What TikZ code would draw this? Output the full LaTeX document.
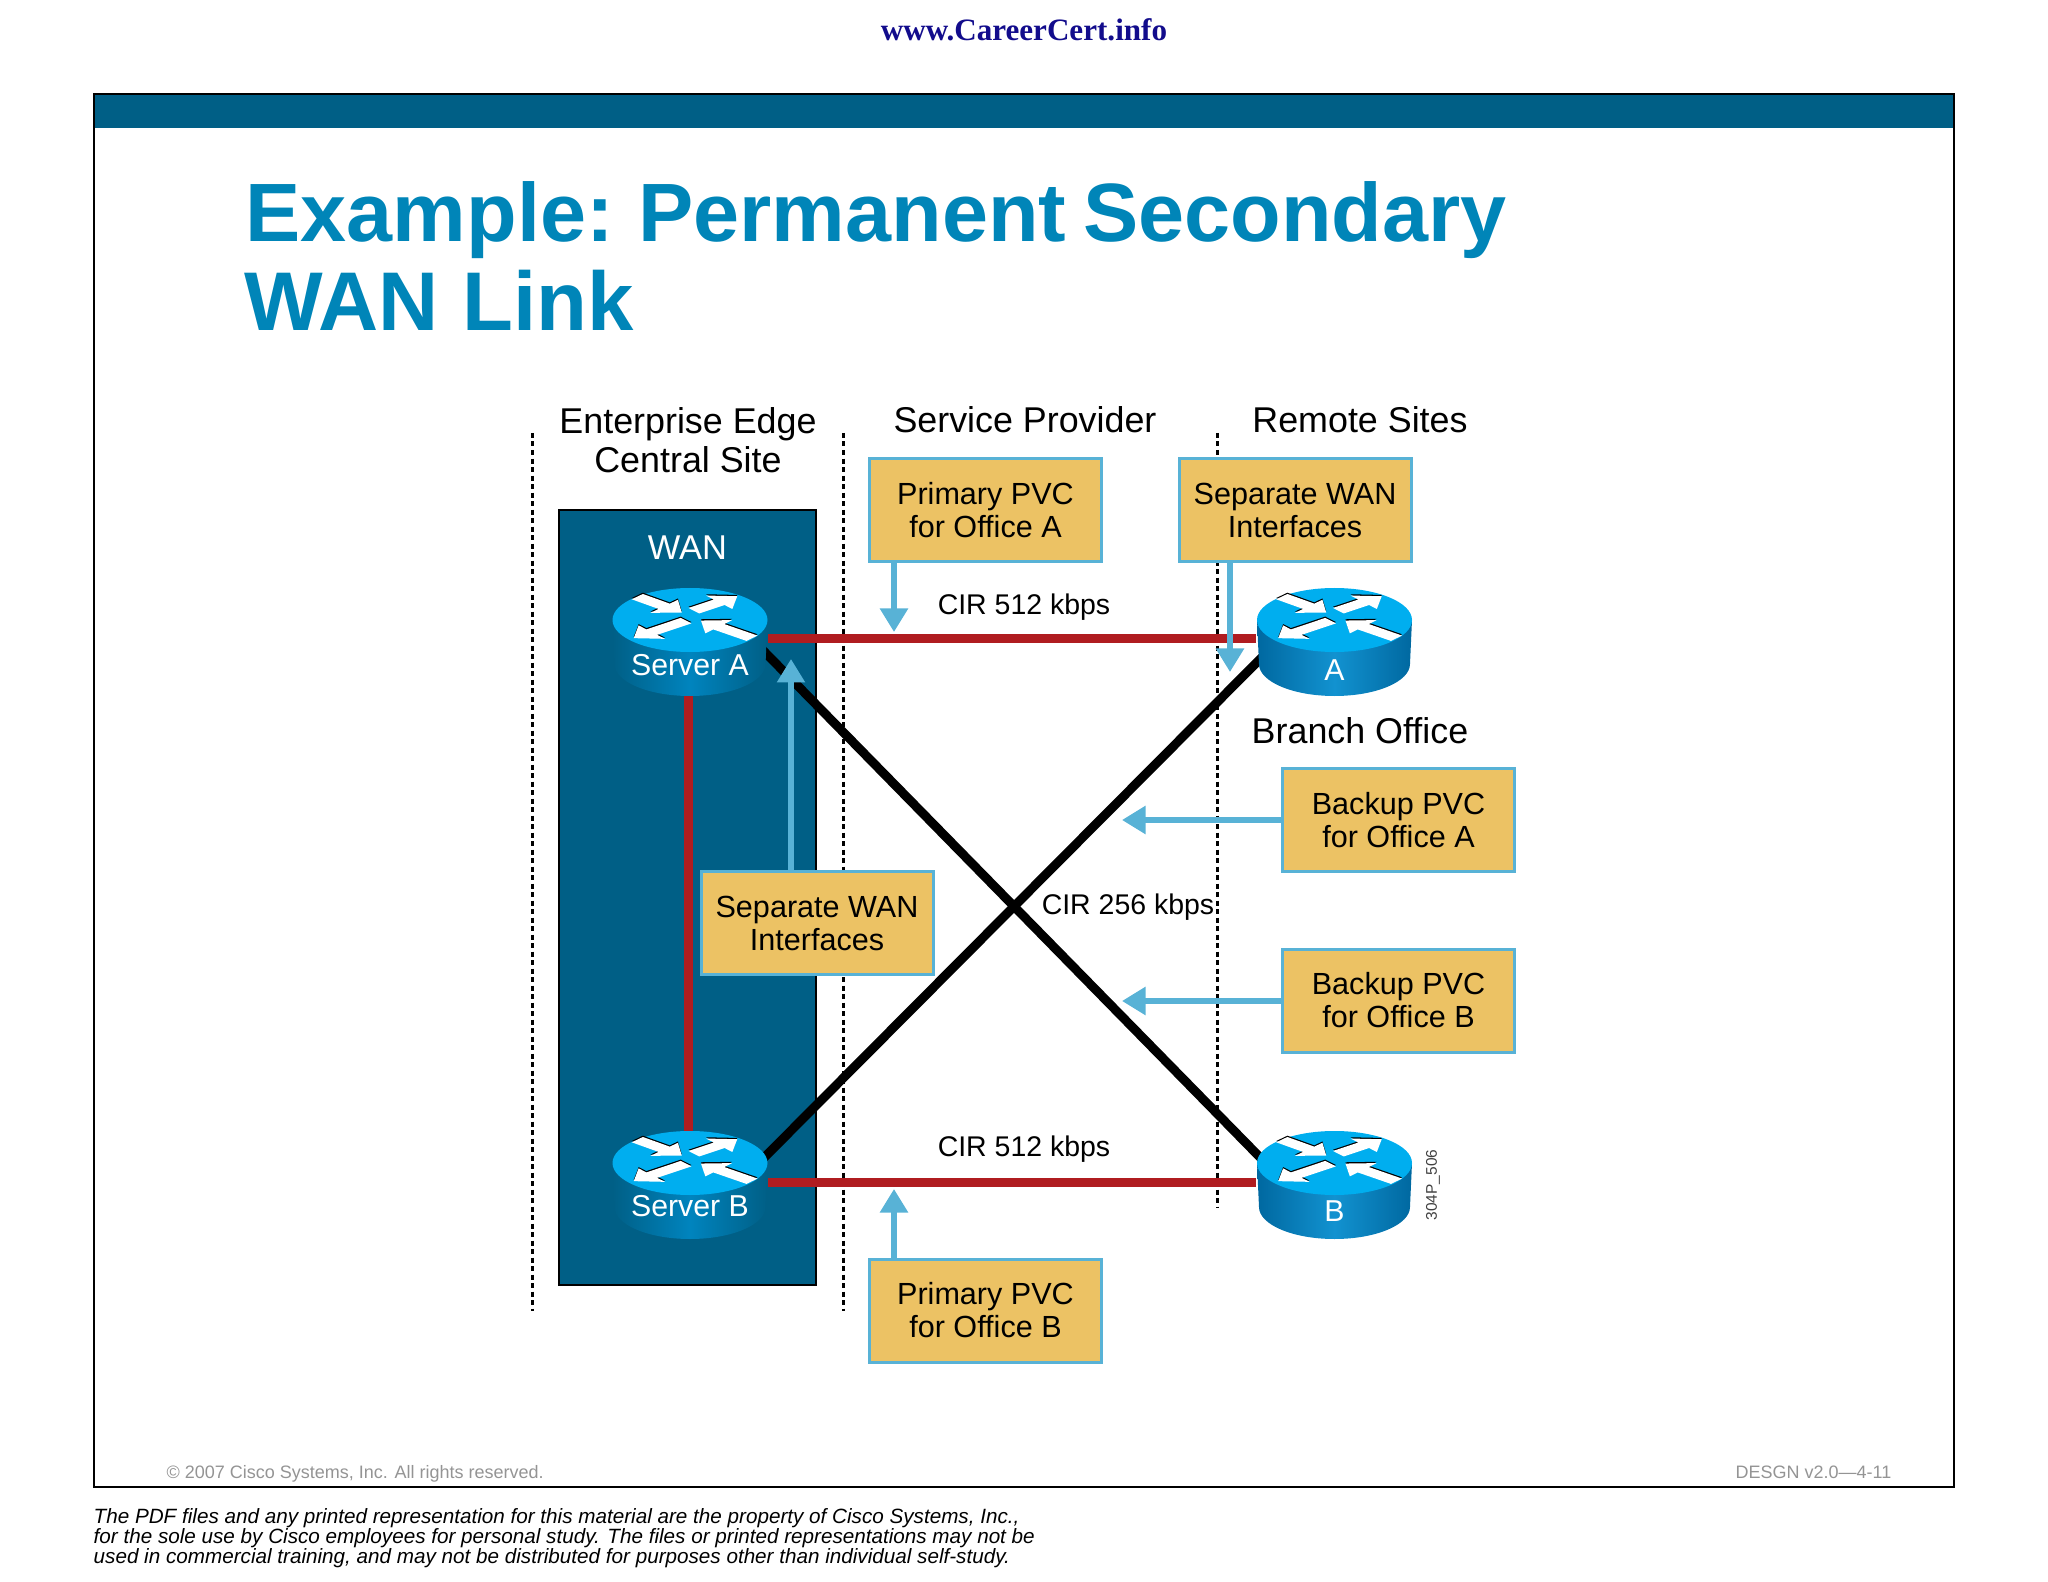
\documentclass[tikz,border=0pt]{standalone}
\usepackage{fontspec}
\setmainfont{Liberation Sans}
\newfontfamily\sitefont{Liberation Serif}
\newfontfamily\titlefont[WordSpace=.75]{Liberation Sans}
\usepackage{xcolor}
\usepackage{tikz}
\usetikzlibrary{arrows.meta,backgrounds}
\definecolor{barblue}{RGB}{0,95,134}
\definecolor{titleblue}{RGB}{0,133,184}
\definecolor{siteblue}{RGB}{18,12,140}
\definecolor{boxfill}{RGB}{236,194,100}
\definecolor{boxedge}{RGB}{88,178,214}
\definecolor{linkred}{RGB}{176,28,32}
\definecolor{rtrtop}{RGB}{0,174,239}
\definecolor{rtredge}{RGB}{0,104,160}
\definecolor{rtrmid}{RGB}{18,146,208}
\definecolor{srvmid}{RGB}{0,132,190}
\tikzset{
    pvcbox/.style={rectangle,draw=boxedge,fill=boxfill,line width=.03cm,minimum width=2.32cm,minimum height=1.03cm,inner sep=0pt,align=center,font=\fontsize{8.7}{9.4}\selectfont},
    pvcarrow/.style={-{Triangle[length=.235cm,width=.27cm]},draw=boxedge,fill=boxedge,line width=.055cm},
    router/.style={rectangle,minimum width=1.55cm,minimum height=1.14cm,inner sep=0pt},
    redlink/.style={draw=linkred,line width=.09cm},
    blacklink/.style={draw=black,line width=.09cm,shorten >=-.08cm,shorten <=-.08cm},
    sitedash/.style={draw=black,line width=.03cm,dash pattern=on .05cm off .035cm},
    headlabel/.style={font=\fontsize{10.2}{11.1}\selectfont,inner sep=0pt,align=center},
    cirlabel/.style={font=\fontsize{8.1}{9}\selectfont,inner sep=0pt,anchor=center}
}
% name, x, y, label, middle colour of the body, colour at its sides, label drop
\newcommand{\drawrouter}[7]{
    \draw (#2,#3) node[router] (#1) {};
    \begin{scope}[shift={(#1.center)}]
        \shade[left color=#6,right color=#6,middle color=#5] (-.775,-.19) -- (-.755,.25) arc[start angle=180,end angle=360,x radius=.755cm,y radius=.32cm] -- (.775,-.19) -- cycle;
        \fill[rtrtop] (0,-.19) ellipse [x radius=.775cm,y radius=.32cm];
        \begin{scope}[shift={(0,-.19)},x=1cm,y=1cm,xscale=.775,yscale=.32]
            \foreach \sx/\sy/\ang/\len in {.05/.29/39/.72,.8/-.57/140/.86,-.68/.73/-41/.76,-.05/-.02/219/.87} {
                \fill[black,shift={(\sx,\sy+.04)},rotate=\ang] (0,-.11) -- ({\len-.3},-.11) -- ({\len-.3},-.27) -- (\len,0) -- ({\len-.3},.27) -- ({\len-.3},.11) -- (0,.11) -- cycle;
                \fill[white,shift={(\sx,\sy)},rotate=\ang] (0,-.11) -- ({\len-.3},-.11) -- ({\len-.3},-.27) -- (\len,0) -- ({\len-.3},.27) -- ({\len-.3},.11) -- (0,.11) -- cycle;
            }
        \end{scope}
        \draw (0,#7) node[text=white,inner sep=0pt,font=\fontsize{8.6}{9}\selectfont] (#1label) {#4};
    \end{scope}
}

\begin{document}
\begin{tikzpicture}[y=-1cm]
    \useasboundingbox (0,0) rectangle (20.48,15.82);
    % slide frame
    \fill[barblue] (.94,.94) rectangle (19.54,1.28);
    \draw[line width=.028cm] (.94,.94) rectangle (19.54,14.87);
    \draw (10.24,.41) node[inner sep=0pt,anchor=base,text=siteblue,font=\sitefont\bfseries\fontsize{8.85}{10}\selectfont] (site) {www.CareerCert.info};
    \draw (2.45,2.42) node[inner sep=0pt,anchor=base west,text=titleblue,font=\titlefont\bfseries\fontsize{23.55}{25.3}\selectfont] (title) {Example: Permanent Secondary};
    \draw (2.44,3.31) node[inner sep=0pt,anchor=base west,text=titleblue,font=\bfseries\fontsize{23.7}{25.3}\selectfont] (titleb) {WAN Link};
    % column headings
    \draw (6.88,4.40) node[headlabel] (edge) {Enterprise Edge\\Central Site};
    \draw (10.25,4.33) node[headlabel,anchor=base] (provider) {Service Provider};
    \draw (13.60,4.33) node[headlabel,anchor=base] (remote) {Remote Sites};
    \draw (13.60,7.43) node[headlabel,anchor=base] (branch) {Branch Office};
    % routers
    \drawrouter{srva}{6.90}{6.39}{Server A}{srvmid}{barblue}{.26}
    \drawrouter{srvb}{6.90}{11.82}{Server B}{srvmid}{barblue}{.245}
    \drawrouter{a}{13.345}{6.39}{A}{rtrmid}{rtredge}{.31}
    \drawrouter{b}{13.345}{11.82}{B}{rtrmid}{rtredge}{.29}
    % everything under the routers
    \begin{scope}[on background layer]
        \draw[sitedash] (5.32,4.33) -- (5.32,13.11);
        \draw[sitedash] (8.43,4.33) -- (8.43,13.11);
        \draw[sitedash] (12.17,4.33) -- (12.17,12.08);
        \draw[draw=black,fill=barblue,line width=.025cm] (5.59,5.10) rectangle (8.16,12.85);
        \draw[blacklink] (srva.348) -- (b.160);
        \draw[blacklink] (a.197) -- (srvb.20);
        \draw[redlink] (srva) -- (a);
        \draw[redlink] (srvb) -- (b);
        \draw[redlink] ([xshift=-.02cm]srva.center) -- ([xshift=-.02cm]srvb.center);
    \end{scope}
    \draw (6.875,5.48) node[inner sep=0pt,text=white,font=\fontsize{9.8}{11}\selectfont] (wan) {WAN};
    \draw (10.24,6.07) node[cirlabel] (cira) {CIR 512 kbps};
    \draw (10.24,11.49) node[cirlabel] (cirb) {CIR 512 kbps};
    \draw (11.28,9.07) node[cirlabel] (circ) {CIR 256 kbps};
    \draw (14.33,11.85) node[inner sep=0pt,rotate=90,text=black!75,font=\fontsize{4.4}{5}\selectfont] (code) {304P\_506};
    % call-outs
    \draw (9.855,5.10) node[pvcbox] (pria) {Primary PVC\\for Office A};
    \draw (12.95,5.10) node[pvcbox] (wanr) {Separate WAN\\Interfaces};
    \draw (8.17,9.23) node[pvcbox] (wanl) {Separate WAN\\Interfaces};
    \draw (13.985,8.20) node[pvcbox] (bkpa) {Backup PVC\\for Office A};
    \draw (13.985,10.005) node[pvcbox] (bkpb) {Backup PVC\\for Office B};
    \draw (9.855,13.105) node[pvcbox] (prib) {Primary PVC\\for Office B};
    \coordinate (tippria) at (8.94,6.32);
    \coordinate (tipwanr) at (12.30,6.72);
    \coordinate (tipwanl) at (7.91,6.59);
    \coordinate (tipbkpa) at (11.22,8.20);
    \coordinate (tipbkpb) at (11.22,10.01);
    \coordinate (tipprib) at (8.94,11.89);
    \draw[pvcarrow] (pria.south -| tippria) -- (tippria);
    \draw[pvcarrow] (wanr.south -| tipwanr) -- (tipwanr);
    \draw[pvcarrow] (wanl.north -| tipwanl) -- (tipwanl);
    \draw[pvcarrow] (bkpa.west |- tipbkpa) -- (tipbkpa);
    \draw[pvcarrow] (bkpb.west |- tipbkpb) -- (tipbkpb);
    \draw[pvcarrow] (prib.north -| tipprib) -- (tipprib);
    % small print
    \draw (1.66,14.78) node[inner sep=0pt,anchor=base west,text=black!42,font=\fontsize{5.12}{6}\selectfont] (copy) {© 2007 Cisco Systems, Inc. All rights reserved.};
    \draw (18.92,14.78) node[inner sep=0pt,anchor=base east,text=black!42,font=\fontsize{5.12}{6}\selectfont] (course) {DESGN v2.0—4-11};
    \draw (.93,15.38) node[inner sep=0pt,anchor=west,align=left,font=\itshape\fontsize{5.88}{5.7}\selectfont] (legal) {The PDF files and any printed representation for this material are the property of Cisco Systems, Inc.,\\for the sole use by Cisco employees for personal study. The files or printed representations may not be\\used in commercial training, and may not be distributed for purposes other than individual self-study.};
\end{tikzpicture}
\end{document}
